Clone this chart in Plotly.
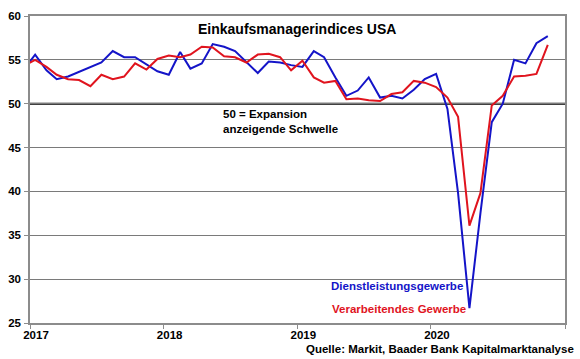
import pandas as pd
import plotly.graph_objects as go

# Monthly observations (plotted mid-month), Dec 2016 - Nov 2020
months = pd.date_range("2016-12-01", "2020-11-01", freq="MS") + pd.Timedelta(days=14)

services = [
    53.9,
    55.6, 53.8, 52.8, 53.1, 53.6, 54.2, 54.7, 56.0, 55.3, 55.3, 54.5, 53.7,
    53.3, 55.9, 54.0, 54.6, 56.8, 56.5, 56.0, 54.8, 53.5, 54.8, 54.7, 54.4,
    54.2, 56.0, 55.3, 53.0, 50.9, 51.5, 53.0, 50.7, 50.9, 50.6, 51.6, 52.8,
    53.4, 49.4, 39.8, 26.7, 37.5, 47.9, 50.0, 55.0, 54.6, 56.9, 57.7,
]
manufacturing = [
    54.3,
    55.0, 54.2, 53.3, 52.8, 52.7, 52.0, 53.3, 52.8, 53.1, 54.6, 53.9, 55.1,
    55.5, 55.3, 55.6, 56.5, 56.4, 55.4, 55.3, 54.7, 55.6, 55.7, 55.3, 53.8,
    54.9, 53.0, 52.4, 52.6, 50.5, 50.6, 50.4, 50.3, 51.1, 51.3, 52.6, 52.4,
    51.9, 50.7, 48.5, 36.1, 39.8, 49.8, 50.9, 53.1, 53.2, 53.4, 56.7,
]

year_ticks = ["2017-01-01", "2018-01-01", "2019-01-01", "2020-01-01", "2021-01-01"]
year_labels = ["2017", "2018", "2019", "2020", ""]
y_ticks = [25, 30, 35, 40, 45, 50, 55, 60]
threshold = 50

BLUE = "#1414c8"
RED = "#e0141e"
FONT = "Liberation Sans, Arial, sans-serif"

PL, PR, PT, PB = 30, 565, 16, 323  # plot area in pixels
PW, PH = PR - PL, PB - PT

def px_x(x):
    return (x - PL) / PW

def px_y(y):
    return (PB - y) / PH

fig = go.Figure()
fig.add_trace(go.Scatter(x=months, y=services, mode="lines",
                         line=dict(color=BLUE, width=2), name="Dienstleistungsgewerbe"))
fig.add_trace(go.Scatter(x=months, y=manufacturing, mode="lines",
                         line=dict(color=RED, width=2), name="Verarbeitendes Gewerbe"))

fig.add_shape(type="line", xref="paper", x0=0, x1=1, yref="y", y0=threshold, y1=threshold,
              line=dict(color="black", width=2), layer="below")

fig.update_layout(
    width=580, height=359,
    margin=dict(l=PL, r=580 - PR, t=PT, b=359 - PB, pad=0),
    paper_bgcolor="white", plot_bgcolor="white",
    showlegend=False,
    font=dict(family=FONT, color="black"),
    xaxis=dict(range=["2017-01-01", "2021-01-01"], tickvals=year_ticks, ticktext=year_labels,
               automargin=False,
               showgrid=False, zeroline=False, showline=True, linecolor="#8c8c8c", linewidth=1.5,
               mirror=True, ticks="outside", ticklen=4, tickcolor="#8c8c8c",
               ticklabelshift=6, ticklabelstandoff=-4,
               tickfont=dict(size=11.5, family=FONT, color="black", weight="bold")),
    yaxis=dict(range=[25, 60], tickvals=y_ticks, showgrid=True, gridcolor="#7a7a7a", gridwidth=1,
               automargin=False,
               zeroline=False, showline=True, linecolor="#8c8c8c", linewidth=1.5, mirror=True,
               ticks="outside", ticklen=4, tickcolor="#8c8c8c", ticklabelstandoff=1,
               tickfont=dict(size=11.5, family=FONT, color="black", weight="bold")),
)

fig.add_annotation(text="<b>Einkaufsmanagerindices USA</b>", xref="paper", yref="paper",
                   x=px_x(297), y=px_y(29), yanchor="middle", xanchor="center",
                   showarrow=False, font=dict(size=14, family=FONT, color="black"))
fig.add_annotation(text="<b>50 = Expansion<br>anzeigende Schwelle</b>", xref="paper", yref="paper",
                   x=px_x(221), y=px_y(121), xanchor="left", yanchor="middle",
                   align="left", showarrow=False, font=dict(size=11.5, family=FONT, color="black"))
fig.add_annotation(text="<b>Dienstleistungsgewerbe</b>", xref="paper", yref="paper",
                   x=px_x(329), y=px_y(286), xanchor="left", yanchor="middle",
                   showarrow=False, font=dict(size=11.5, family=FONT, color=BLUE))
fig.add_annotation(text="<b>Verarbeitendes Gewerbe</b>", xref="paper", yref="paper",
                   x=px_x(330), y=px_y(309), xanchor="left", yanchor="middle",
                   showarrow=False, font=dict(size=11.5, family=FONT, color=RED))
fig.add_annotation(text="<b>Quelle: Markit, Baader Bank Kapitalmarktanalyse</b>", xref="paper",
                   yref="paper", x=px_x(576), y=px_y(349), xanchor="right", yanchor="middle",
                   showarrow=False, font=dict(size=11.5, family=FONT, color="black"))

fig.write_html("out.html", config={"displayModeBar": False},
               post_script="document.body.style.margin='0';document.body.style.overflow='hidden';")
